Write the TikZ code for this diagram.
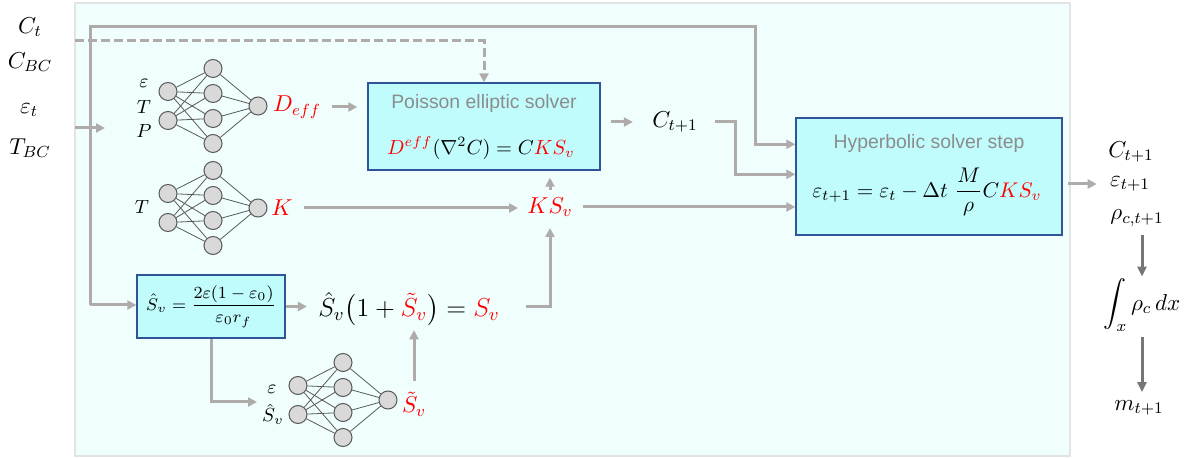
\RequirePackage{fix-cm}
\documentclass[tikz,border=0pt]{standalone}
\usepackage{amsmath,amssymb}
\usepackage{fontspec}
\newfontfamily\labelsans{Liberation Sans}
\usetikzlibrary{arrows.meta}

\definecolor{panelfill}{RGB}{240,254,254}
\definecolor{panelline}{RGB}{226,228,228}
\definecolor{boxfill}{RGB}{192,252,252}
\definecolor{boxline}{RGB}{47,85,151}
\definecolor{flowgray}{RGB}{175,171,171}
\definecolor{outgray}{RGB}{118,118,118}
\definecolor{titlegray}{RGB}{140,140,140}
\definecolor{unitfill}{RGB}{217,217,217}
\definecolor{unitline}{RGB}{89,89,89}

% small net: 2 inputs, 4 hidden, 1 output
\newcommand{\nnet}[3]{%
  \foreach \k/\dy in {1/-14.5, 2/14.5}
    \node[unit] (#1i\k) at (#2-45,#3+\dy) {};
  \foreach \k/\dy in {1/-37.5, 2/-12.5, 3/12.5, 4/37.5}
    \node[unit] (#1h\k) at (#2,#3+\dy) {};
  \node[unit] (#1o) at (#2+45,#3) {};
  \foreach \i in {1,2}
    \foreach \k in {1,...,4}
      \draw[synapse] (#1i\i) -- (#1h\k);
  \foreach \k in {1,...,4}
    \draw[synapse] (#1h\k) -- (#1o);
}

\begin{document}
\begin{tikzpicture}[x=0.5pt, y=-0.5pt,
  unit/.style={circle, draw=unitline, fill=unitfill, line width=0.5pt, minimum size=9pt, inner sep=0pt},
  synapse/.style={draw=unitline, line width=0.4pt},
  flow/.style={draw=flowgray, line width=1.5pt, -{Triangle[length=4.5pt,width=4.5pt]}},
  down/.style={draw=outgray, line width=1.5pt, -{Triangle[length=5pt,width=4.5pt]}},
  solver/.style={draw=boxline, fill=boxfill, line width=0.7pt, inner sep=0pt},
  soltitle/.style={text=titlegray, font=\labelsans\fontsize{9.7}{11}\selectfont, inner sep=1pt},
  lbl/.style={font=\fontsize{11.5}{13}\selectfont, inner sep=1pt},
  nnlbl/.style={font=\fontsize{9.5}{11}\selectfont, inner sep=1pt}]
  \useasboundingbox (0,0) rectangle (1192,458);
  \draw[draw=panelline, fill=panelfill, line width=0.8pt] (75,3) rectangle (1070,456);

  \node[lbl] (ct) at (30,27) {$C_t$};
  \node[lbl] (cbc) at (30,62) {$C_{BC}$};
  \node[lbl] (et) at (29,110) {$\varepsilon_t$};
  \node[lbl] (tbc) at (30,148) {$T_{BC}$};

  \nnet{d}{213}{106}
  \nnet{k}{213}{208}
  \nnet{s}{343}{400}

  \node[nnlbl] (ld1) at (144,83) {$\varepsilon$};
  \node[nnlbl] (ld2) at (144,107) {$T$};
  \node[nnlbl] (ld3) at (144,131) {$P$};
  \node[nnlbl] (lk) at (142,207) {$T$};
  \node[nnlbl] (ls1) at (272,389) {$\varepsilon$};
  \node[nnlbl] (ls2) at (273,414) {$\hat{S}_v$};

  \node[lbl, text=red] (deff) at (297,107) {$D_{eff}$};
  \node[lbl, text=red] (kk) at (282,208) {$K$};
  \node[lbl, text=red] (st) at (414,404) {$\tilde{S}_v$};

  \node[solver, minimum width=116pt, minimum height=43.5pt] (pois) at (484,126.5) {};
  \node[soltitle] (poist) at (484,103) {Poisson elliptic solver};
  \node[font=\fontsize{10.2}{12}\selectfont, inner sep=1pt] (poisf) at (481,148)
    {$\textcolor{red}{D^{eff}}(\nabla^2 C) = C\textcolor{red}{KS_v}$};

  \node[solver, minimum width=133pt, minimum height=58.5pt] (hyp) at (929,176.5) {};
  \node[soltitle] (hypt) at (929,143) {Hyperbolic solver step};
  \node[font=\fontsize{10.6}{12}\selectfont, inner sep=1pt] (hypf) at (927,192)
    {$\varepsilon_{t+1} = \varepsilon_t - \Delta t\ \dfrac{M}{\rho}C\textcolor{red}{KS_v}$};

  \node[solver, minimum width=74pt, minimum height=31.5pt, font=\fontsize{8.5}{10}\selectfont] (sv) at (211,306.5)
    {$\hat{S}_v = \dfrac{2\varepsilon(1-\varepsilon_0)}{\varepsilon_0 r_f}$};
  \node[font=\fontsize{13}{15}\selectfont, inner sep=1pt] (eq) at (409,309)
    {$\hat{S}_v\bigl(1+\textcolor{red}{\tilde{S}_v}\bigr) = \textcolor{red}{S_v}$};

  \node[lbl, text=red] (ks) at (550,207) {$KS_v$};
  \node[lbl] (cnext) at (675,122) {$C_{t+1}$};

  \node[lbl] (o1) at (1131,152) {$C_{t+1}$};
  \node[lbl] (o2) at (1130,184) {$\varepsilon_{t+1}$};
  \node[lbl] (o3) at (1137,218) {$\rho_{c,t+1}$};
  \node[lbl] (mass) at (1142,305) {$\displaystyle\int_x \rho_c\,dx$};
  \node[lbl] (mnext) at (1139,408) {$m_{t+1}$};

  \coordinate (ein) at (75,128);
  \coordinate (eend) at (105,128);
  \coordinate (fork) at (90,305);
  \coordinate (bend) at (755,27);
  \coordinate (cin) at (75,41);
  \coordinate (sin) at (257,402);

  \draw[flow] (ein) -- (eend);
  \draw[flow] (fork) -- (sv.west |- fork);
  \draw[flow] (fork) |- (bend) |- ([yshift=-13.5pt]hyp.north west);
  \draw[flow, dash pattern=on 4.5pt off 2pt] (cin) -| (pois.north);
  \draw[flow, shorten <=4.5pt, shorten >=5pt] (deff.east) -- (pois.west |- deff.east);
  \draw[flow, shorten <=5pt, shorten >=8.5pt] (pois.east |- cnext) -- (cnext.west);
  \draw[flow, shorten <=7.5pt] (cnext.east) -- ++(17.5pt,0) |- ([yshift=-28.5pt]hyp.north west);
  \draw[flow, shorten <=4.5pt, shorten >=3.5pt] (kk.east) -- (ks.west |- kk.east);
  \draw[flow, shorten <=4pt] (ks.east) -- (hyp.west |- ks.east);
  \draw[flow, shorten <=2.5pt, shorten >=3.5pt] (ks.north) -- (ks.north |- pois.south);
  \draw[flow, shorten >=4.5pt] (sv.east) -- (eq.west |- sv.east);
  \draw[flow, shorten <=12pt, shorten >=4.5pt] (eq.east |- sv.east) -| (ks.south);
  \draw[flow] (sv.south) |- (sin);
  \draw[flow, shorten <=4pt, shorten >=1pt] (st.north) -- (st.north |- eq.south);
  \draw[flow, shorten <=2.5pt, shorten >=5.5pt] (hyp.east |- o2) -- (o2.west);
  \draw[down, shorten <=3pt] (mass.north |- o3.south) -- (mass.north);
  \draw[down, shorten <=2pt, shorten >=3pt] (mass.south) -- (mass.south |- mnext.north);
\end{tikzpicture}
\end{document}
